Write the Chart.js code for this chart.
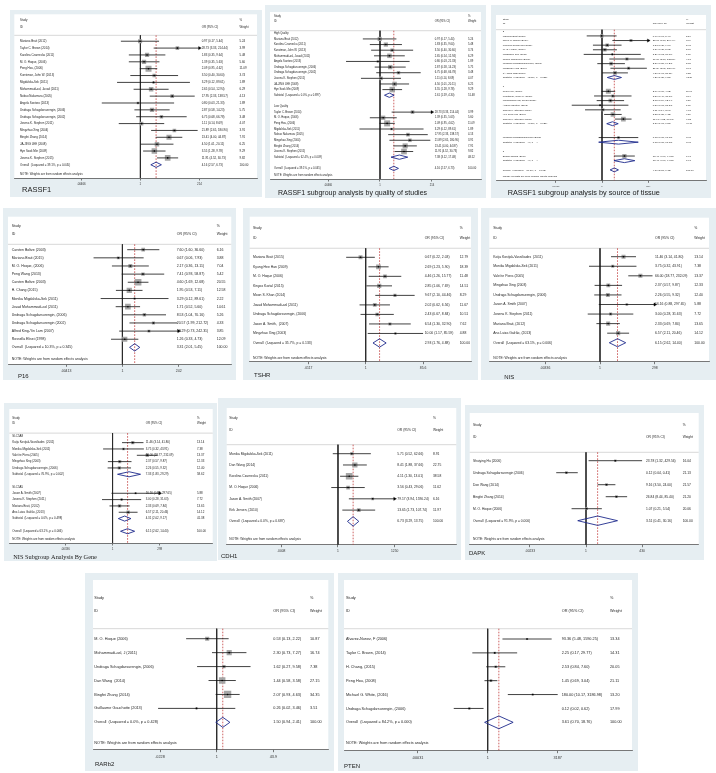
<!DOCTYPE html>
<html><head><meta charset="utf-8">
<script src="https://cdn.jsdelivr.net/npm/chart.js@4.4.1/dist/chart.umd.min.js"></script>
<style>
html,body{margin:0;padding:0;background:#fff;}
body{position:relative;width:716px;height:773px;overflow:hidden;}
.p{position:absolute;background:#e6eef2;}
.p canvas{position:absolute;left:0;top:0;}
</style>
</head><body>
<script>
// ---------------- DATA ----------------
const noteText = 'NOTE: Weights are from random effects analysis';

// RASSF1
const rassf1Studies = ['Mariana Brait (2012)','Taylor C. Brown (2014)','Karolina Czarnecka (2011)','M. O. Hoque, (2006)','Peng Hou, (2006)','Kunstman, John W. (2013)','Migdalska-Sek (2011)','Mohammadi-asl, Javad (2011)','Nobuo Nakamura (2005)','Angela Santoro (2013)','Undraga Schagdarsurengin, (2006)','Undraga Schagdarsurengin, (2002)','Josena K. Stephen (2011)','Mingzhao Xing (2004)','Bingfei Zhang (2014)','JA-JING LEE (2008)','Hye Sook Min (2009)','Josena K. Stephen (2015)','Overall  (I-squared = 39.1%, p = 0.045)'];
const rassf1OR    = [0.97,28.73,1.83,1.39,2.09,3.50,3.29,2.65,17.95,0.80,2.87,6.75,1.11,21.89,13.41,4.50,3.55,11.91,4.16];
const rassf1Lower = [0.17,3.33,0.35,0.35,0.95,0.40,0.12,0.54,2.33,0.03,0.58,0.68,0.14,2.65,4.00,1.01,1.28,4.52,2.57];
const rassf1Upper = [5.44,214.44,9.64,5.63,4.62,30.60,89.61,12.94,138.57,21.33,14.23,66.78,8.69,180.90,44.87,20.11,9.78,30.73,6.73];
const rassf1Weight= [5.24,3.99,5.48,5.60,11.09,3.74,1.89,6.29,4.13,1.89,5.75,3.48,4.07,3.91,7.91,6.25,9.29,9.82,100.00];
const rassf1Ticks = [0.00466,1,214];
const rassf1TickLabels = ['.00466','1','214'];

// RASSF1 by quality
const qualStudies = ['High Quality','Mariana Brait (2012)','Karolina Czarnecka (2011)','Kunstman, John W. (2013)','Mohammadi-asl, Javad (2011)','Angela Santoro (2013)','Undraga Schagdarsurengin, (2006)','Undraga Schagdarsurengin, (2002)','Josena K. Stephen (2011)','JA-JING LEE (2008)','Hye Sook Min (2009)','Subtotal  (I-squared = 0.0%, p = 0.897)','','Low Quality','Taylor C. Brown (2014)','M. O. Hoque, (2006)','Peng Hou, (2006)','Migdalska-Sek (2011)','Nobuo Nakamura (2005)','Mingzhao Xing (2004)','Bingfei Zhang (2014)','Josena K. Stephen (2015)','Subtotal  (I-squared = 62.4%, p = 0.009)','','Overall  (I-squared = 39.1%, p = 0.045)'];
const qualOR    = [null,0.97,1.83,3.50,2.65,0.80,2.87,6.75,1.11,4.50,3.55,2.61,null,null,28.73,1.39,2.09,3.29,17.95,21.89,13.41,11.91,7.38,null,4.16];
const qualLower = [null,0.17,0.35,0.40,0.54,0.03,0.58,0.68,0.14,1.01,1.28,1.59,null,null,3.33,0.35,0.95,0.12,2.33,2.65,4.00,4.52,3.12,null,2.57];
const qualUpper = [null,5.44,9.64,30.60,12.94,21.33,14.23,66.78,8.69,20.11,9.78,4.30,null,null,214.44,5.63,4.62,89.61,138.57,180.90,44.87,30.73,17.48,null,6.73];
const qualWeight= [null,5.24,5.48,3.74,6.29,1.89,5.75,3.48,4.07,6.25,9.29,51.48,null,null,3.99,5.60,11.09,1.89,4.13,3.91,7.91,9.82,48.52,null,100.00];
const qualTicks = [0.00466,1,214];
const qualTickLabels = ['.00466','1','214'];

// RASSF1 by source of tissue
const srcStudies = ['2','Mariana Brait (2012)','Taylor C. Brown (2014)','Karolina Czarnecka (2011)','M. O. Hoque, (2006)','Migdalska-Sek (2011)','Nobuo Nakamura (2005)','Undraga Schagdarsurengin, (2006)','Mingzhao Xing (2004)','JA-JING LEE (2008)','Subtotal  (I-squared = 42.8%, p = 0.082)','','1','Peng Hou, (2006)','Kunstman, John W. (2013)','Mohammadi-asl, Javad (2011)','Angela Santoro (2013)','Josena K. Stephen (2011)','Hye Sook Min (2009)','Josena K. Stephen (2015)','Subtotal  (I-squared = 40.5%, p = 0.121)','','','Undraga Schagdarsurengin (2002)','Subtotal  (I-squared = .%, p = .)','','3','Bingfei Zhang (2014)','Subtotal  (I-squared = .%, p = .)','','Overall  (I-squared = 39.1%, p = 0.045)'];
const srcOR    = [null,0.97,28.73,1.83,1.39,3.29,17.95,2.87,21.89,4.50,4.21,null,null,2.09,3.50,2.65,0.80,1.11,3.55,11.91,3.37,null,null,6.75,6.75,null,null,13.41,13.41,null,4.16];
const srcLower = [null,0.17,3.33,0.35,0.35,0.12,2.33,0.58,2.65,1.01,1.85,null,null,0.95,0.40,0.54,0.03,0.14,1.28,4.52,1.73,null,null,0.68,0.68,null,null,4.00,4.00,null,2.57];
const srcUpper = [null,5.44,214.44,9.64,5.63,89.61,138.57,14.23,180.90,20.11,9.56,null,null,4.62,30.60,12.94,21.33,8.69,9.78,30.73,6.56,null,null,66.78,66.78,null,null,44.87,44.87,null,6.73];
const srcWeight= [null,5.24,3.99,5.48,5.60,1.89,4.13,5.75,3.91,6.25,42.24,null,null,11.09,3.74,6.29,1.89,4.07,9.29,9.82,46.19,null,null,3.48,3.48,null,null,7.91,7.91,null,100.00];
const srcTicks = [0.00466,1,214];
const srcTickLabels = ['.00466','1','214'];

// P16
const p16Studies = ['Carsten Boltze (2003)','Mariana Brait (2015)','M. O. Hoque, (2006)','Peng Wang (2013)','Carsten Boltze (2003)','H. Chang (2015)','Monika Migdalska-Sek (2011)','Javad Mohammadi-asl (2011)','Undraga Schagdarsurengin, (2006)','Undraga Schagdarsurengin (2002)','Alfred King-Yin Lam (2007)','Rossella Elisei (1998)','Overall  (I-squared = 10.3%, p = 0.345)'];
const p16OR    = [7.60,0.67,2.17,7.41,4.60,1.95,3.29,1.71,8.53,20.57,13.29,1.26,3.31];
const p16Lower = [1.60,0.06,0.36,0.93,1.69,0.53,0.12,0.52,1.04,1.99,0.73,0.33,2.01];
const p16Upper = [36.60,7.93,13.11,58.87,12.68,7.11,89.61,5.60,70.16,212.72,242.31,4.73,5.45];
const p16Weight= [6.16,3.88,7.04,5.42,20.55,12.58,2.22,14.61,5.26,4.33,3.85,12.09,100.00];
const p16Ticks = [0.00413,1,242];
const p16TickLabels = ['.00413','1','242'];

// TSHR
const tshrStudies = ['Mariana Brait (2015)','Kyung Hee Han (2009)','M. O. Hoque (2006)','Kinyas Kartal (2015)','Moon S. Khan (2014)','Javad Mohammadi-asl (2011)','Undraga Schagdarsurengin, (2006)','Jason A. Smith,  (2007)','Mingzhao Xing (2003)','Overall  (I-squared = 35.7%, p = 0.133)'];
const tshrOR    = [0.67,2.69,4.46,2.85,9.67,2.02,2.43,6.54,10.00,2.93];
const tshrLower = [0.22,1.23,1.26,1.06,2.10,0.62,0.67,1.30,1.17,1.76];
const tshrUpper = [2.03,5.90,15.77,7.69,44.46,6.56,8.84,32.90,85.59,4.88];
const tshrWeight= [12.79,18.39,11.48,14.51,8.29,11.67,10.51,7.62,4.88,100.00];
const tshrTicks = [0.0117,1,85.6];
const tshrTickLabels = ['.0117','1','85.6'];

// NIS
const nisStudies = ['Katja Kostjak-Vassiliades  (2011)','Monika Migdalska-Sek (2011)',"Vale'rie Porra (2005)",'Mingzhao Xing (2003)','Undraga Schagdarsurengin, (2006)','Jason A. Smith (2007)','Josena K. Stephen (2011)','Mariana Brait, (2012)','Ana Luiza Galrão, (2013)','Overall  (I-squared = 63.1%, p = 0.006)'];
const nisOR    = [11.46,3.75,66.00,2.37,2.26,16.16,3.00,2.33,6.57,6.15];
const nisLower = [3.14,0.32,18.77,0.57,0.55,0.88,0.28,0.69,2.11,2.62];
const nisUpper = [41.80,43.91,232.09,9.87,9.32,297.65,31.63,7.84,20.46,14.40];
const nisWeight= [13.14,7.38,13.37,12.33,12.40,5.88,7.72,13.65,14.12,100.00];
const nisTicks = [0.00336,1,297.6];
const nisTickLabels = ['.00336','1','298'];

// NIS by gene
const geneStudies = ['SLC5A8','Katja Kostjak-Vassiliades  (2011)','Monika Migdalska-Sek (2011)',"Vale'rie Porra (2005)",'Mingzhao Xing (2003)','Undraga Schagdarsurengin, (2006)','Subtotal  (I-squared = 76.9%, p = 0.002)','','SLC5A5','Jason A. Smith (2007)','Josena K. Stephen (2011)','Mariana Brait, (2012)','Ana Luiza Galrão, (2013)','Subtotal  (I-squared = 0.0%, p = 0.498)','','Overall  (I-squared = 63.1%, p = 0.006)'];
const geneOR    = [null,11.46,3.75,66.00,2.37,2.26,7.33,null,null,16.16,3.00,2.33,6.57,4.31,null,6.15];
const geneLower = [null,3.14,0.32,18.77,0.57,0.55,1.83,null,null,0.88,0.28,0.69,2.11,2.02,null,2.62];
const geneUpper = [null,41.80,43.91,232.09,9.87,9.32,29.29,null,null,297.65,31.63,7.84,20.46,9.17,null,14.40];
const geneWeight= [null,13.14,7.38,13.37,12.33,12.40,58.62,null,null,5.88,7.72,13.65,14.12,41.38,null,100.00];
const geneTicks = [0.00336,1,297.6];
const geneTickLabels = ['.00336','1','298'];

// CDH1
const cdh1Studies = ['Monika Migdalska-Sek (2011)','Dan Wang (2014)','Karolina Czarnecka (2011)','M. O. Hoque (2006)','Jason A. Smith (2007)','Kirk Jensen, (2010)','Overall  (I-squared = 0.0%, p = 0.687)'];
const cdh1OR    = [5.71,8.41,4.11,3.56,79.17,13.65,6.73];
const cdh1Lower = [0.52,1.88,1.30,0.43,3.94,1.73,3.29];
const cdh1Upper = [62.66,37.66,13.01,29.06,1590.24,107.74,13.75];
const cdh1Weight= [8.91,22.75,38.58,11.62,6.16,11.97,100.00];
const cdh1Ticks = [0.0008,1,1250];
const cdh1TickLabels = ['.0008','1','1250'];

// DAPK
const dapkStudies = ['Shuiying Hu (2006)','Undraga Schagdarsurengin (2006)','Dan Wang (2014)','Bingfei Zhang (2014)','M. O. Hoque (2006)','Overall  (I-squared = 91.9%, p = 0.000)'];
const dapkOR    = [23.78,0.12,9.16,26.84,1.07,3.51];
const dapkLower = [1.32,0.04,3.50,8.44,0.21,0.41];
const dapkUpper = [429.56,0.41,24.00,85.40,5.54,30.16];
const dapkWeight= [16.04,21.13,21.57,21.20,20.06,100.00];
const dapkTicks = [0.00233,1,430];
const dapkTickLabels = ['.00233','1','430'];

// RARb2
const rarb2Studies = ['M. O. Hoque (2006)','Mohammadi-asl, J (2011)','Undraga Schagdarsurengin, (2006)','Dan Wang  (2014)','Bingfei Zhang (2014)','Guillaume Gauchotte (2013)','Overall  (I-squared = 0.0%, p = 0.428)'];
const rarb2OR    = [0.53,2.30,1.62,1.44,2.07,0.26,1.50];
const rarb2Lower = [0.13,0.73,0.27,0.58,0.93,0.02,0.94];
const rarb2Upper = [2.22,7.27,9.58,3.58,4.63,3.46,2.41];
const rarb2Weight= [10.87,16.74,7.38,27.15,34.35,3.51,100.00];
const rarb2Ticks = [0.0228,1,43.9];
const rarb2TickLabels = ['.0228','1','43.9'];

// PTEN
const ptenStudies = ['Alvarez-Nunez, F (2006)','Taylor C. Brown, (2014)','H. Chang, (2015)','Peng Hou, (2008)','Michael G. White, (2016)','Undraga Schagdarsurengin, (2006)','Overall  (I-squared = 84.2%, p = 0.000)'];
const ptenOR    = [93.36,2.25,2.53,1.45,180.00,0.12,3.61];
const ptenLower = [5.48,0.17,0.84,0.69,10.17,0.02,0.70];
const ptenUpper = [1590.25,29.77,7.60,3.04,3186.98,0.62,18.76];
const ptenWeight= [13.34,14.31,20.05,21.11,13.20,17.99,100.00];
const ptenTicks = [0.00031,1,3187];
const ptenTickLabels = ['.00031','1','3187'];

// ---------------- LAYOUT (page pixels) ----------------
const SANS = '"Liberation Sans", Arial, Helvetica, sans-serif';
const SERIF = '"Liberation Serif", "Times New Roman", serif';
Chart.defaults.font.family = SANS;

const panels = [
 {d:[rassf1Studies,rassf1OR,rassf1Lower,rassf1Upper,rassf1Weight,rassf1Ticks,rassf1TickLabels],
  box:[10,10,252,187], inner:[12,12,257], axisY:178, row0:39.3, step:6.96, x1:139.3, ppd:25.6,
  sep:-0.86, head:[-3,-2], note:19.4, nameX:20, orX:201.7, wtX:239.5, fs:2.9, k:1.8, dh:0.38,
  title:['RASSF1',22,190,7.5,SANS]},
 {d:[qualStudies,qualOR,qualLower,qualUpper,qualWeight,qualTicks,qualTickLabels],
  box:[265,5,221,193], inner:[270,12,481], axisY:179, row0:33.3, step:5.63, x1:380, ppd:22.3,
  sep:-0.46, head:[-3.07,-2.13], note:25.2, nameX:274, orX:434.7, wtX:468, fs:2.7, k:1.8, dh:0.38,
  title:['RASSF1 subgroup analysis by quality of studies',278,192.7,7,SANS]},
 {d:[srcStudies,srcOR,srcLower,srcUpper,srcWeight,srcTicks,srcTickLabels],
  box:[491,5,220,193], inner:[496,15,706], axisY:180.3, row0:31.3, step:4.62, x1:602, ppd:19.87,
  sep:-0.35, head:[-2.6,-1.7], note:31.4, nameX:502.7, orX:652.7, wtX:686, fs:2.5, k:1.5, dh:0.42,
  title:['RASSF1 subgroup analysis by source of tissue',507.7,192.7,7.3,SANS]},
 {d:[p16Studies,p16OR,p16Lower,p16Upper,p16Weight,p16Ticks,p16TickLabels],
  box:[3,208,233,172], inner:[8,216.7,233], axisY:364.3, row0:249.7, step:8.14, x1:123.3, ppd:23.8,
  sep:-0.66, head:[-2.95,-1.9], note:13.46, nameX:11.7, orX:176.7, wtX:216.7, fs:3.5, k:1.48, dh:0.45,
  title:['P16',18,376.7,6,SANS]},
 {d:[tshrStudies,tshrOR,tshrLower,tshrUpper,tshrWeight,tshrTicks,tshrTickLabels],
  box:[243,208,235,172], inner:[249.7,216.7,471], axisY:361.7, row0:257.3, step:9.52, x1:365.7, ppd:29.7,
  sep:-0.95, head:[-3.1,-2.06], note:10.6, nameX:253, orX:424.7, wtX:459.7, fs:3.4, k:1.1, dh:0.44,
  title:['TSHR',254,375,6,SANS]},
 {d:[nisStudies,nisOR,nisLower,nisUpper,nisWeight,nisTicks,nisTickLabels],
  box:[481,208,235,172], inner:[489.3,217.7,709], axisY:361.7, row0:256.7, step:9.56, x1:600, ppd:22.2,
  sep:-0.88, head:[-3.03,-1.99], note:10.6, nameX:493.3, orX:655, wtX:694.3, fs:3.4, k:1.1, dh:0.42,
  title:['NIS',504.3,377.3,6,SANS]},
 {d:[geneStudies,geneOR,geneLower,geneUpper,geneWeight,geneTicks,geneTickLabels],
  box:[4,403,213,158], inner:[9.3,409,213], axisY:543, row0:436.3, step:6.33, x1:112.7, ppd:19.1,
  sep:-0.5, head:[-2.9,-2], note:16.3, nameX:12.3, orX:145.7, wtX:197, fs:2.9, k:0.9, dh:0.4,
  title:['NIS Subgroup Analysis By Gene',13.3,557.3,6.3,SERIF]},
 {d:[cdh1Studies,cdh1OR,cdh1Lower,cdh1Upper,cdh1Weight,cdh1Ticks,cdh1TickLabels],
  box:[218,398,243,162], inner:[226.7,408,456.3], axisY:544.7, row0:453.7, step:11.28, x1:338, ppd:18.3,
  sep:-0.8, head:[-3.17,-2.13], note:7.53, nameX:229.3, orX:397.3, wtX:433, fs:3.3, k:1.08, dh:0.42,
  title:['CDH1',221,556.3,6,SANS]},
 {d:[dapkStudies,dapkOR,dapkLower,dapkUpper,dapkWeight,dapkTicks,dapkTickLabels],
  box:[465,405,239,155], inner:[469.7,413,698.7], axisY:544.7, row0:460.7, step:12, x1:586, ppd:21.3,
  sep:-0.7, head:[-2.95,-2], note:6.5, nameX:473, orX:646, wtX:682.7, fs:3.3, k:0.6, dh:0.39,
  title:['DAPK',469,553.7,6,SANS]},
 {d:[rarb2Studies,rarb2OR,rarb2Lower,rarb2Upper,rarb2Weight,rarb2Ticks,rarb2TickLabels],
  box:[85,573,249,198], inner:[93,580,328.3], axisY:749.7, row0:638.7, step:13.94, x1:216.7, ppd:34.5,
  sep:-0.72, head:[-2.92,-1.97], note:7.48, nameX:94.3, orX:273.3, wtX:310, fs:3.8, k:1.25, dh:0.36,
  title:['RARb2',95,764,6,SANS]},
 {d:[ptenStudies,ptenOR,ptenLower,ptenUpper,ptenWeight,ptenTicks,ptenTickLabels],
  box:[338,573,300,198], inner:[344,580,632], axisY:750.7, row0:639, step:13.89, x1:487.7, ppd:19.98,
  sep:-0.74, head:[-2.95,-1.99], note:7.48, nameX:346, orX:561.7, wtX:610, fs:3.8, k:0.6, dh:0.46,
  title:['PTEN',344,766.3,6,SANS]}
];

// ---------------- BUILD ----------------
const f2 = v => v.toFixed(2);
const AXIS_H = 10;
function lineDs(points, color, width, order, dash) {
  return {type:'line', data:points, borderColor:color, borderWidth:width, pointRadius:0,
          fill:false, tension:0, order:order, borderDash:dash||[], clip:false};
}

function buildPanel(L) {
  const [names, or, lo, hi, wt, ticks, tickLabels] = L.d;
  const bx = Math.round(L.box[0]), by = Math.round(L.box[1]);
  const bw = Math.round(L.box[2]), bh = Math.round(L.box[3]);
  const div = document.createElement('div');
  div.className = 'p';
  Object.assign(div.style, {left:bx+'px', top:by+'px', width:bw+'px', height:bh+'px'});
  const cv = document.createElement('canvas');
  cv.width = bw; cv.height = bh;
  cv.style.width = bw+'px'; cv.style.height = bh+'px';
  div.appendChild(cv); document.body.appendChild(div);

  const padL = L.inner[0]-bx, padT = L.inner[1]-by, padR = bx+bw-L.inner[2];
  const padB = by+bh-L.axisY-AXIS_H;
  const xmin = Math.pow(10, (L.inner[0]-L.x1)/L.ppd);
  const xmax = Math.pow(10, (L.inner[2]-L.x1)/L.ppd);
  const ymin = (L.inner[1]-L.row0)/L.step;
  const ymax = (L.axisY-L.row0)/L.step;
  const tMax = ticks[ticks.length-1];

  const ds = [];
  ds.push(lineDs([{x:xmin,y:L.sep},{x:xmax,y:L.sep}], '#bdbdbd', 0.6, 9));
  ds.push(lineDs([{x:1,y:L.sep},{x:1,y:ymax}], '#2a2a2a', 0.9, 8));
  const oi = names.findIndex(n => n.startsWith('Overall'));
  ds.push(lineDs([{x:or[oi],y:L.sep},{x:or[oi],y:ymax}], '#c23b3b', 0.8, 7, [1.6,1.4]));

  const boxes = [], radii = [], dots = [], arrows = [];
  names.forEach((n, i) => {
    if (or[i] == null) return;
    if (/^(Subtotal|Overall)/.test(n)) {
      ds.push(lineDs([{x:lo[i],y:i},{x:or[i],y:i-L.dh},{x:hi[i],y:i},{x:or[i],y:i+L.dh},{x:lo[i],y:i}], '#1e2a8c', 0.9, 2));
    } else {
      ds.push(lineDs([{x:lo[i],y:i},{x:Math.min(hi[i],tMax),y:i}], '#111', 0.8, 3));
      boxes.push({x:or[i], y:i});
      radii.push(L.k*Math.sqrt(wt[i])/Math.SQRT2);
      dots.push({x:or[i], y:i});
      if (hi[i] > tMax) arrows.push({x:tMax, y:i});
    }
  });
  ds.push({type:'scatter', data:boxes, pointStyle:'rect', pointRadius:radii, backgroundColor:'#a6a6a6', borderWidth:0, order:6});
  ds.push({type:'scatter', data:dots, pointStyle:'circle', pointRadius:0.8, backgroundColor:'#000', borderWidth:0, order:1});
  ds.push({type:'scatter', data:arrows, pointStyle:'triangle', rotation:90, pointRadius:1.9, backgroundColor:'#000', borderColor:'#000', borderWidth:0.3, order:1});

  const items = [];
  items.push(['Study', L.nameX, L.head[0]], ['ID', L.nameX, L.head[1]],
             ['OR (95% CI)', L.orX, L.head[1]], ['%', L.wtX, L.head[0]], ['Weight', L.wtX, L.head[1]]);
  names.forEach((n, i) => {
    if (n) items.push([n, L.nameX, i]);
    if (or[i] != null) {
      items.push([f2(or[i])+' ('+f2(lo[i])+', '+f2(hi[i])+')', L.orX, i]);
      items.push([f2(wt[i]), L.wtX, i]);
    }
  });
  items.push([noteText, L.nameX, L.note]);

  const forestPlugin = {
    id: 'forestText',
    beforeDraw(chart) {
      const a = chart.chartArea, c = chart.ctx;
      c.save(); c.fillStyle = '#ffffff';
      c.fillRect(a.left, a.top, a.right-a.left, a.bottom-a.top);
      c.restore();
    },
    afterDraw(chart) {
      const c = chart.ctx, ys = chart.scales.y;
      c.save();
      c.fillStyle = '#1f1f1f';
      c.textBaseline = 'middle'; c.textAlign = 'left';
      c.font = L.fs + 'px ' + SANS;
      items.forEach(t => c.fillText(t[0], t[1]-bx, ys.getPixelForValue(t[2])));
      const T = L.title;
      c.fillStyle = '#1a1a1a';
      c.font = T[3] + 'px ' + T[4];
      c.fillText(T[0], T[1]-bx, T[2]-by);
      c.restore();
    }
  };

  new Chart(cv, {
    type: 'scatter',
    data: {datasets: ds},
    plugins: [forestPlugin],
    options: {
      responsive:false, animation:false, devicePixelRatio:1, events:[],
      layout:{padding:{left:padL, top:padT, right:padR, bottom:padB}},
      plugins:{legend:{display:false}, tooltip:{enabled:false}, title:{display:false}},
      scales:{
        x:{type:'logarithmic', min:xmin, max:xmax, bounds:'data', position:'bottom',
           afterBuildTicks: s => { s.ticks = ticks.map(v => ({value:v})); },
           afterFit: s => { s.height = AXIS_H; },
           ticks:{autoSkip:false, maxRotation:0, minRotation:0, padding:2,
                  font:{size:L.fs, family:SANS}, color:'#333',
                  callback:(v, i) => tickLabels[i]},
           grid:{display:true, drawOnChartArea:false, drawTicks:true, tickLength:2.5, color:'#444', lineWidth:0.7},
           border:{display:true, color:'#555', width:0.8}},
        y:{type:'linear', min:ymin, max:ymax, reverse:true, bounds:'data', display:false}
      }
    }
  });
}

panels.forEach(buildPanel);
</script>
</body></html>
